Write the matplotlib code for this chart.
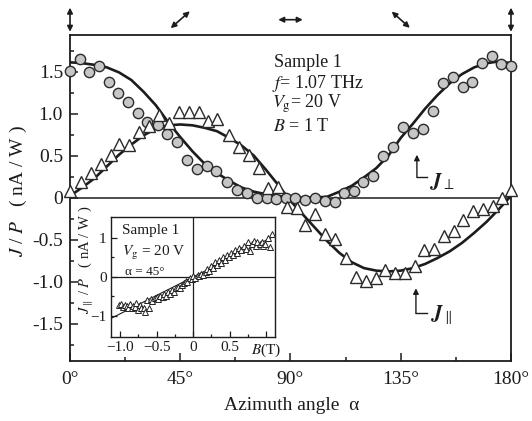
import numpy as np
import matplotlib
matplotlib.use("Agg")
import matplotlib.pyplot as plt

plt.rcParams['font.family'] = ['Liberation Serif', 'DejaVu Serif']
plt.rcParams['mathtext.fontset'] = 'stix'

# --- J_perp (circles) ---
alpha_perp = [0.0, 4.1, 7.9, 12.0, 16.0, 19.7, 23.8, 27.9, 31.6, 35.8, 39.7, 43.8,
              47.6, 51.7, 55.8, 59.6, 64.0, 68.0, 72.1, 76.2, 80.3, 84.1, 88.2, 91.8,
              95.9, 100.0, 104.1, 108.2, 111.8, 115.9, 119.7, 123.8, 127.9, 131.7,
              135.8, 139.9, 144.0, 148.0, 152.1, 156.2, 160.3, 163.9, 168.0, 172.1,
              175.8, 179.9]
j_perp = [1.51, 1.65, 1.49, 1.57, 1.37, 1.24, 1.14, 1.01, 0.90, 0.86, 0.76, 0.66,
          0.45, 0.34, 0.37, 0.32, 0.19, 0.09, 0.05, 0.00, 0.00, -0.02, -0.01, 0.00,
          -0.03, -0.01, -0.04, -0.05, 0.05, 0.08, 0.18, 0.26, 0.50, 0.60,
          0.84, 0.77, 0.82, 1.03, 1.36, 1.43, 1.32, 1.38, 1.60, 1.68,
          1.59, 1.57]

# --- J_par (triangles) ---
alpha_par = [0.0, 4.4, 8.4, 12.5, 16.6, 20.1, 24.2, 28.3, 32.4, 36.4, 40.5, 44.6,
             48.7, 52.8, 56.4, 59.9, 65.0, 69.1, 73.2, 77.3, 80.9, 85.0, 88.7, 92.8,
             95.9, 100.0, 104.1, 108.2, 112.7, 116.7, 120.8, 124.9, 128.6, 132.7,
             136.7, 140.8, 144.5, 148.6, 152.7, 156.7, 160.5, 164.4, 168.4, 172.5,
             176.2, 180.0]
j_par = [0.08, 0.18, 0.29, 0.40, 0.51, 0.64, 0.63, 0.78, 0.85, 0.98, 0.89, 1.02,
         1.02, 1.02, 0.91, 0.93, 0.75, 0.60, 0.51, 0.35, 0.11, 0.13, -0.11, -0.13,
         -0.33, -0.19, -0.43, -0.49, -0.72, -0.95, -0.99, -0.96, -0.86, -0.90,
         -0.90, -0.82, -0.62, -0.61, -0.46, -0.40, -0.27, -0.16, -0.14, -0.10,
         -0.01, 0.09]

# --- fitted curves (every 5 deg) ---
fit_alpha = [0, 5, 10, 15, 20, 25, 30, 35, 40, 45, 50, 55, 60, 65, 70, 75, 80, 85, 90,
             95, 100, 105, 110, 115, 120, 125, 130, 135, 140, 145, 150, 155, 160, 165,
             170, 175, 180]
fit_perp = [1.61, 1.60, 1.58, 1.55, 1.49, 1.40, 1.26, 1.10, 0.90, 0.72, 0.55, 0.40,
            0.29, 0.20, 0.12, 0.07, 0.04, 0.02, 0.00, 0.00, 0.00, 0.01, 0.07, 0.14,
            0.24, 0.35, 0.50, 0.71, 0.88, 1.06, 1.22, 1.36, 1.47, 1.55, 1.60, 1.62, 1.60]
fit_par = [0.02, 0.12, 0.23, 0.37, 0.51, 0.63, 0.74, 0.82, 0.86, 0.87, 0.86, 0.83,
           0.79, 0.71, 0.62, 0.50, 0.33, 0.15, -0.04, -0.20, -0.36, -0.52, -0.66, -0.77,
           -0.84, -0.87, -0.88, -0.87, -0.84, -0.79, -0.72, -0.64, -0.54, -0.42, -0.29,
           -0.14, 0.02]

# --- inset: J_par vs B at alpha = 45 deg ---
inset_B = [-1.02, -0.99, -0.96, -0.94, -0.91, -0.89, -0.87, -0.84, -0.82, -0.80, -0.78,
           -0.76, -0.73, -0.71, -0.68, -0.66, -0.63, -0.61, -0.58, -0.56, -0.53, -0.50,
           -0.48, -0.45, -0.42, -0.40, -0.37, -0.34, -0.32, -0.29, -0.26, -0.24, -0.21,
           -0.18, -0.16, -0.13, -0.10, -0.08, -0.05, -0.02, 0.00, 0.03, 0.06, 0.08, 0.11,
           0.14, 0.17, 0.19, 0.22, 0.25, 0.27, 0.30, 0.33, 0.35, 0.38, 0.41, 0.44, 0.46,
           0.49, 0.52, 0.55, 0.57, 0.60, 0.63, 0.66, 0.69, 0.72, 0.75, 0.78, 0.80, 0.83,
           0.86, 0.88, 0.91, 0.94, 0.96, 0.99, 1.03, 1.05, 1.08]
inset_J = [-0.73, -0.70, -0.77, -0.72, -0.75, -0.80, -0.70, -0.81, -0.74, -0.77, -0.68,
           -0.85, -0.73, -0.80, -0.81, -0.90, -0.60, -0.79, -0.58, -0.63, -0.55, -0.52,
           -0.57, -0.48, -0.53, -0.45, -0.49, -0.40, -0.44, -0.35, -0.38, -0.30, -0.25,
           -0.30, -0.20, -0.16, -0.10, -0.14, -0.04, -0.07, 0.02, -0.02, 0.05, 0.01, 0.08,
           0.04, 0.13, 0.20, 0.16, 0.27, 0.22, 0.37, 0.30, 0.42, 0.36, 0.50, 0.44, 0.56,
           0.50, 0.62, 0.56, 0.68, 0.60, 0.74, 0.68, 0.80, 0.72, 0.88, 0.66, 0.85, 0.92,
           0.80, 0.88, 0.84, 0.90, 0.78, 0.83, 0.98, 0.77, 1.09]
fit_B = [-1.13, 1.12]
fit_J = [-1.07, 1.05]

# polarization icons above the frame
pol_angles = [0, 45, 90, 135, 180]

ink = '#1c1c1c'

fig = plt.figure(figsize=(5.32, 4.21), dpi=100)
ax = fig.add_axes([0.1316, 0.1425, 0.8289, 0.7743])

ax.axhline(0, color=ink, lw=1.1, zorder=1)
ax.plot(fit_alpha, fit_perp, '-', color=ink, lw=1.9, zorder=2)
ax.plot(fit_alpha, fit_par, '-', color=ink, lw=1.9, zorder=2)
ax.plot(alpha_perp, j_perp, 'o', ms=7.4, mfc='#c6c6c6', mec='#2a2a2a', mew=1.0,
        zorder=3, clip_on=False)
ax.plot(alpha_par, j_par, '^', ms=8.5, mfc='white', mec='#2a2a2a', mew=1.0,
        zorder=3, clip_on=False)

ax.set_xlim(0, 180)
ax.set_ylim(-1.946, 1.935)
ax.set_xticks([0, 45, 90, 135, 180])
ax.set_xticklabels(['0°', '45°', '90°', '135°', '180°'])
ax.set_xticks([22.5, 67.5, 112.5, 157.5], minor=True)
ax.set_yticks([-1.5, -1.0, -0.5, 0, 0.5, 1.0, 1.5])
ax.set_yticklabels(['-1.5', '-1.0', '-0.5', '0', '0.5', '1.0', '1.5'])
ax.set_yticks([-1.75, -1.25, -0.75, -0.25, 0.25, 0.75, 1.25, 1.75], minor=True)
ax.tick_params(which='both', direction='in', top=False, right=False,
               labelsize=14, width=1.1, colors=ink)
ax.tick_params(which='major', length=6)
ax.tick_params(which='minor', length=3)
ax.tick_params(axis='x', pad=7)
ax.tick_params(axis='y', pad=5)
for s in ax.spines.values():
    s.set_linewidth(1.3)
    s.set_color(ink)

fig.text(292 / 532, 1 - 405 / 421, 'Azimuth angle  α', fontsize=14,
         ha='center', va='center', color=ink)
fig.text(18 / 532, 1 - 191 / 421, r'$J$ / $P$   ( nA / W )', fontsize=14,
         rotation=90, ha='center', va='center', color=ink)

# sample info
ax.text(83.3, 1.61, 'Sample 1', fontsize=13, va='center', color=ink)
ax.text(82.6, 1.36, r'$f$= 1.07 THz', fontsize=13, va='center', color=ink)
ax.text(82.6, 1.12, r'$V_{\rm g}$= 20 V', fontsize=13, va='center', color=ink)
ax.text(83.0, 0.85, r'$B$ = 1 T', fontsize=13, va='center', color=ink)

# J_perp / J_par markers
arr = dict(arrowstyle='-|>', color=ink, lw=1.0, mutation_scale=8, shrinkA=0, shrinkB=0)
ax.annotate('', xy=(141.6, 0.51), xytext=(141.6, 0.24), arrowprops=arr)
ax.plot([141.6, 145.6], [0.24, 0.24], color=ink, lw=1.0)
ax.text(146.9, 0.19, r'$\mathbfit{J}_{\perp}$', fontsize=15, va='center', color=ink)
ax.annotate('', xy=(141.2, -1.08), xytext=(141.2, -1.38), arrowprops=arr)
ax.plot([141.2, 145.6], [-1.38, -1.38], color=ink, lw=1.0)
ax.text(147.3, -1.40, r'$\mathbfit{J}_{\parallel}$', fontsize=15, va='center', color=ink)

# polarization direction icons
tr = ax.get_xaxis_transform()
pol = dict(arrowstyle='<|-|>', color=ink, lw=1.2, mutation_scale=8, shrinkA=0, shrinkB=0)
yc = 1.047
half = {0: (0.0, 0.037), 45: (3.9, 0.026), 90: (5.0, 0.0), 135: (-3.7, 0.025), 180: (0.0, 0.037)}
for a in pol_angles:
    dx, dy = half[a]
    ax.annotate('', xy=(a + dx, yc + dy), xytext=(a - dx, yc - dy), xycoords=tr,
                textcoords=tr, arrowprops=pol, annotation_clip=False)

# --- inset ---
axin = fig.add_axes([0.2081, 0.1988, 0.3088, 0.2858])
axin.set_facecolor('white')
axin.axhline(0, color=ink, lw=0.9, zorder=1)
axin.axvline(0, color=ink, lw=0.9, zorder=1)
axin.plot(fit_B, fit_J, '-', color=ink, lw=0.8, zorder=2)
axin.plot(inset_B, inset_J, '^', ms=4.3, mfc='white', mec='#222222', mew=0.7, zorder=3)
axin.set_xlim(-1.13, 1.12)
axin.set_ylim(-1.55, 1.53)
axin.set_xticks([-1.0, -0.5, 0, 0.5, 1.0])
axin.set_xticklabels(['\u22121.0', '\u22120.5', '0', '0.5', r'$B$(T)'])
axin.set_xticks([-0.75, -0.25, 0.25, 0.75], minor=True)
axin.set_yticks([-1, 0, 1])
axin.set_yticklabels(['\u22121', '0', '1'])
axin.set_yticks([-0.5, 0.5], minor=True)
axin.tick_params(which='both', direction='in', top=False, right=False,
                 labelsize=11, width=0.9, colors=ink, pad=3)
axin.tick_params(which='major', length=4)
axin.tick_params(which='minor', length=2)
for s in axin.spines.values():
    s.set_linewidth(1.0)
    s.set_color(ink)
axin.text(0.067, 0.89, 'Sample 1', fontsize=11, transform=axin.transAxes,
          va='center', color=ink)
axin.text(0.067, 0.70, r'$V_{\rm g}$ = 20 V', fontsize=11, transform=axin.transAxes,
          va='center', color=ink)
axin.text(0.09, 0.545, 'α = 45°', fontsize=9.5, transform=axin.transAxes,
          va='center', color=ink)
axin.text(-0.155, 0.64, r'$J_{\parallel}$ / $P$   ( nA / W )', fontsize=10.5,
          rotation=90, transform=axin.transAxes, ha='center', va='center', color=ink)

fig.savefig('out.png', dpi=100)
